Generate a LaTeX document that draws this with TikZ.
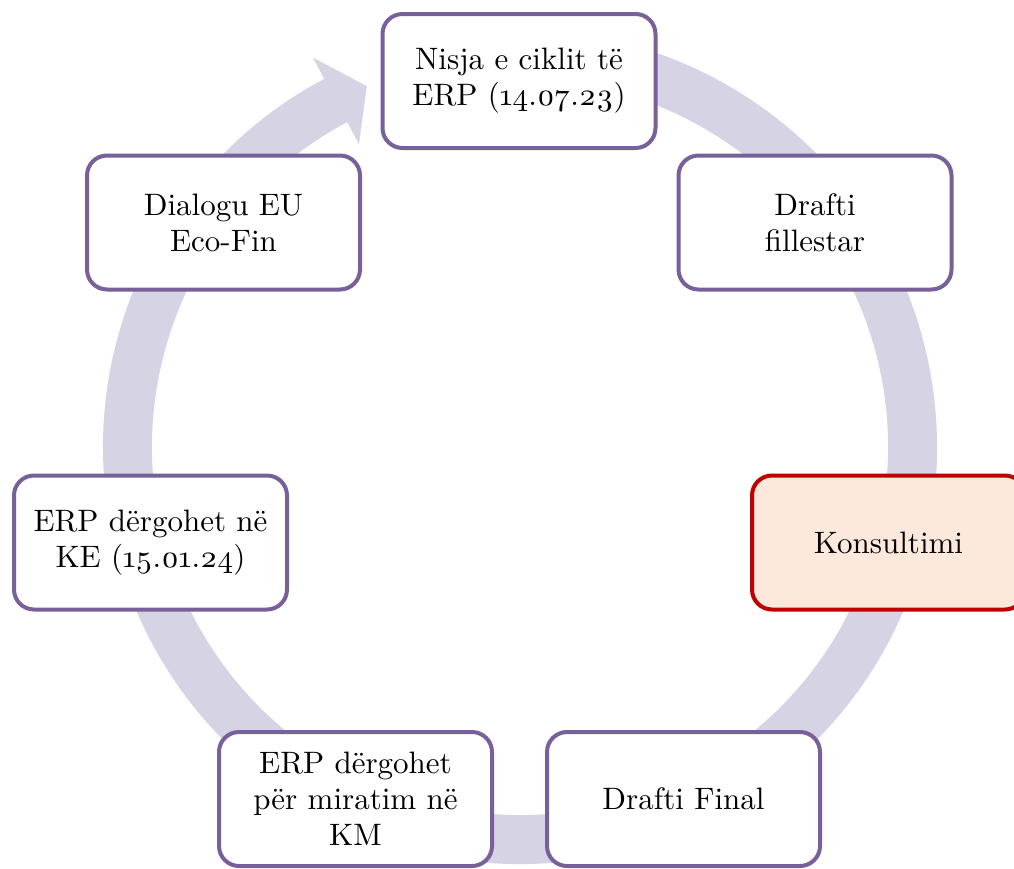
\documentclass[tikz,border=0pt]{standalone}
\usepackage{fontspec}
\setmainfont{lmroman10-regular.otf}[Numbers=OldStyle]
\usetikzlibrary{calc}
\definecolor{ringc}{RGB}{214,211,228}
\definecolor{boxline}{RGB}{120,96,154}
\definecolor{konsfill}{RGB}{252,233,219}
\definecolor{konsline}{RGB}{192,0,0}
\begin{document}
\begin{tikzpicture}[x=1pt,y=-1pt,
  stepbox/.style={draw=boxline, line width=4pt, fill=white, rounded corners=20pt,
    minimum width=273pt, minimum height=134pt, align=center, inner sep=0pt,
    font=\fontsize{31}{36}\selectfont},
  konsbox/.style={stepbox, draw=konsline, fill=konsfill}]
\useasboundingbox (0,0) rectangle (1014,868);
\coordinate (C) at (520,447);
\fill[ringc] ($(C)+(-100:417)$) arc[start angle=-100,end angle=242,radius=417]
  -- ($(C)+(242:441)$) -- ($(C)+(247:392)$) -- ($(C)+(242:343)$)
  -- ($(C)+(242:368)$) arc[start angle=242,end angle=-100,radius=368] -- cycle;
\node[stepbox] (n1) at (519,81) {Nisja e ciklit të\\ERP (14.07.23)};
\node[stepbox] (n2) at (815,222.5) {Drafti\\fillestar};
\node[konsbox] (n3) at (888.5,542.5) {Konsultimi};
\node[stepbox] (n4) at (683.5,799) {Drafti Final};
\node[stepbox] (n5) at (355.5,799) {ERP dërgohet\\për miratim në\\KM};
\node[stepbox] (n6) at (150.5,542.5) {ERP dërgohet në\\KE (15.01.24)};
\node[stepbox] (n7) at (223.5,222.5) {Dialogu EU\\Eco-Fin};
\end{tikzpicture}
\end{document}
